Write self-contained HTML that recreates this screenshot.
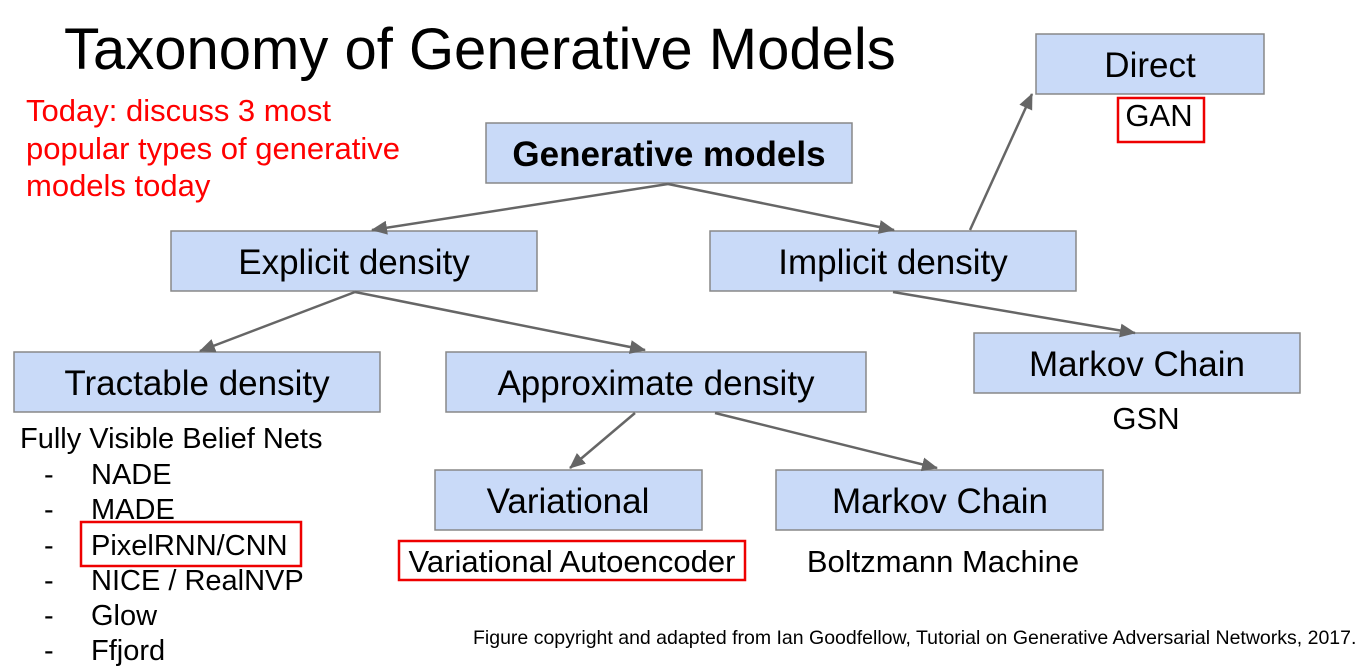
<!DOCTYPE html>
<html><head><style>html,body{margin:0;padding:0;background:#fff;}svg{display:block;}</style></head>
<body>
<svg width="1371" height="671" viewBox="0 0 1371 671" xmlns="http://www.w3.org/2000/svg" font-family="Liberation Sans, Arial, sans-serif">
<defs><marker id="a" markerWidth="16" markerHeight="14" refX="15" refY="7" orient="auto" markerUnits="userSpaceOnUse"><path d="M0,0 L16,7 L0,14 z" fill="#666"/></marker>
<style>.b{fill:#c9daf8;stroke:#888;stroke-width:1.5}.l{stroke:#666;stroke-width:2.5;fill:none;marker-end:url(#a)}.r{fill:none;stroke:#e00;stroke-width:2.5}</style></defs>
<text x="64" y="69" font-size="58">Taxonomy of Generative Models</text>
<g fill="#f00" font-size="31"><text x="26" y="121">Today: discuss 3 most</text><text x="26" y="159">popular types of generative</text><text x="26" y="196">models today</text></g>
<rect class="b" x="1036" y="34" width="228" height="60"/>
<rect class="b" x="486" y="123" width="366" height="60"/>
<rect class="b" x="171" y="231" width="366" height="60"/>
<rect class="b" x="710" y="231" width="366" height="60"/>
<rect class="b" x="14" y="352" width="366" height="60"/>
<rect class="b" x="446" y="352" width="420" height="60"/>
<rect class="b" x="974" y="333" width="326" height="60"/>
<rect class="b" x="435" y="470" width="267" height="60"/>
<rect class="b" x="776" y="470" width="327" height="60"/>
<rect class="r" x="1118" y="98" width="86" height="44"/>
<rect class="r" x="399" y="541" width="346" height="39"/>
<rect class="r" x="81" y="522" width="220" height="44"/>
<path class="l" d="M668,184 L372,230"/>
<path class="l" d="M668,184 L894,230"/>
<path class="l" d="M970,230 L1032,94"/>
<path class="l" d="M355,292 L200,351"/>
<path class="l" d="M355,292 L645,350"/>
<path class="l" d="M893,292 L1135,333"/>
<path class="l" d="M635,413 L570,468"/>
<path class="l" d="M715,413 L937,468"/>
<g font-size="35" text-anchor="middle">
<text x="1150" y="77">Direct</text>
<text x="669" y="166" font-weight="bold">Generative models</text>
<text x="354" y="274">Explicit density</text>
<text x="893" y="274">Implicit density</text>
<text x="197" y="395">Tractable density</text>
<text x="656" y="395">Approximate density</text>
<text x="1137" y="376">Markov Chain</text>
<text x="568" y="513">Variational</text>
<text x="940" y="513">Markov Chain</text>
</g>
<g font-size="31" text-anchor="middle">
<text x="1159" y="126">GAN</text>
<text x="1146" y="429">GSN</text>
<text x="572" y="572">Variational Autoencoder</text>
<text x="943" y="572">Boltzmann Machine</text>
</g>
<g font-size="29">
<text x="20" y="448">Fully Visible Belief Nets</text>
<g><text x="44" y="484">-</text><text x="44" y="519">-</text><text x="44" y="555">-</text><text x="44" y="590">-</text><text x="44" y="625">-</text><text x="44" y="660">-</text></g>
<text x="91" y="484">NADE</text><text x="91" y="519">MADE</text><text x="91" y="555">PixelRNN/CNN</text><text x="91" y="590">NICE / RealNVP</text><text x="91" y="625">Glow</text><text x="91" y="660">Ffjord</text>
</g>
<text x="473" y="644" font-size="19.5">Figure copyright and adapted from Ian Goodfellow, Tutorial on Generative Adversarial Networks, 2017.</text>
</svg>
</body></html>
